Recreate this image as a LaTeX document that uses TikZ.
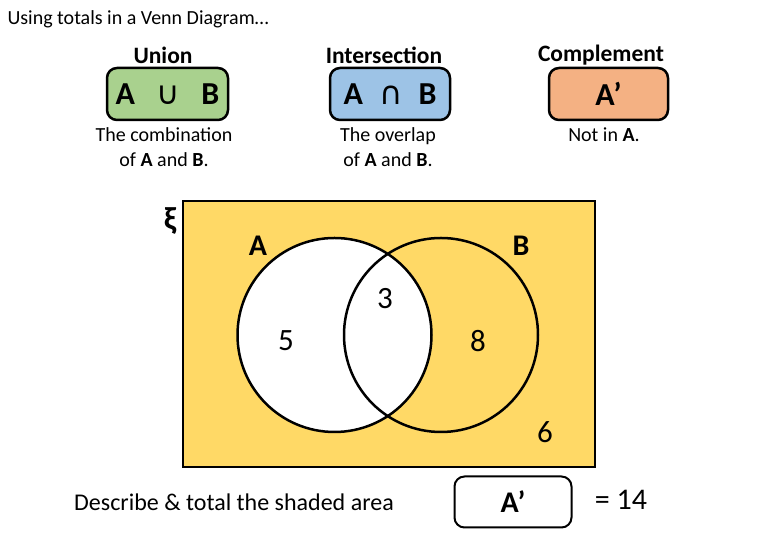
\documentclass[tikz,border=0pt]{standalone}
\usepackage{fontspec}
\setmainfont{Carlito}
\newfontfamily\symbfont{DejaVu Sans}
\definecolor{unionfill}{HTML}{A9D18E}
\definecolor{interfill}{HTML}{9DC3E6}
\definecolor{complfill}{HTML}{F4B183}
\definecolor{vennfill}{HTML}{FFD966}
\tikzset{
  setbox/.style={draw, line width=2.5pt, rounded corners=10pt, minimum height=52pt, font=\fontsize{32}{34}\selectfont\bfseries},
  heading/.style={font=\fontsize{23.5}{26}\selectfont\bfseries},
  note/.style={align=center, font=\fontsize{20}{25}\selectfont},
  region/.style={font=\fontsize{31}{33}\selectfont}
}
\begin{document}
\begin{tikzpicture}[x=1pt, y=1pt]
    \useasboundingbox (0,0) rectangle (780,540);
    \node[anchor=west, font=\fontsize{20}{24}\selectfont] (title) at (4,521) {Using totals in a Venn Diagram…};

    % the three set operations
    \node[heading] (unionhead) at (163,485) {Union};
    \node[heading] (interhead) at (384,485) {Intersection};
    \node[heading] (complhead) at (601,485) {Complement};
    \node[setbox, fill=unionfill, minimum width=121pt] (unionbox) at (167.5,446) {A \;\,{\symbfont\mdseries ∪}\;\, B};
    \node[setbox, fill=interfill, minimum width=120pt] (interbox) at (390,446) {A \;{\symbfont\mdseries ∩}\; B};
    \node[setbox, fill=complfill, minimum width=119pt] (complbox) at (608.5,446) {A’};
    \node[note] (unionnote) at (164,393) {The combination\\of \textbf{A} and \textbf{B}.};
    \node[note] (internote) at (388,393) {The overlap\\of \textbf{A} and \textbf{B}.};
    \node[note] (complnote) at (604,405) {Not in \textbf{A}.};

    % venn diagram
    \fill[vennfill] (183,73) rectangle (595,339);
    \fill[white] (334.5,205) circle (97);
    \draw[line width=2.5pt] (334.5,205) circle (97);
    \draw[line width=2.5pt] (441,205) circle (97);
    \draw[line width=2.5pt] (183,73) rectangle (595,339);
    \node[font=\fontsize{32}{34}\selectfont\bfseries] (xi) at (170,319) {ξ};
    \node[region, font=\fontsize{30}{32}\selectfont\bfseries] (labA) at (258,294) {A};
    \node[region, font=\fontsize{30}{32}\selectfont\bfseries] (labB) at (521,294) {B};
    \node[region] (onlyA) at (286,199) {5};
    \node[region] (both) at (385,241) {3};
    \node[region] (onlyB) at (478,199) {8};
    \node[region] (neither) at (545,108) {6};

    % question
    \node[font=\fontsize{24}{28}\selectfont] (task) at (234,38) {Describe \& total the shaded area};
    \node[setbox, fill=white, line width=2pt, minimum width=117pt, minimum height=51pt, font=\fontsize{30}{32}\selectfont\bfseries] (answer) at (513,38) {A’};
    \node[font=\fontsize{30}{32}\selectfont] (total) at (621,40) {= 14};
\end{tikzpicture}
\end{document}
